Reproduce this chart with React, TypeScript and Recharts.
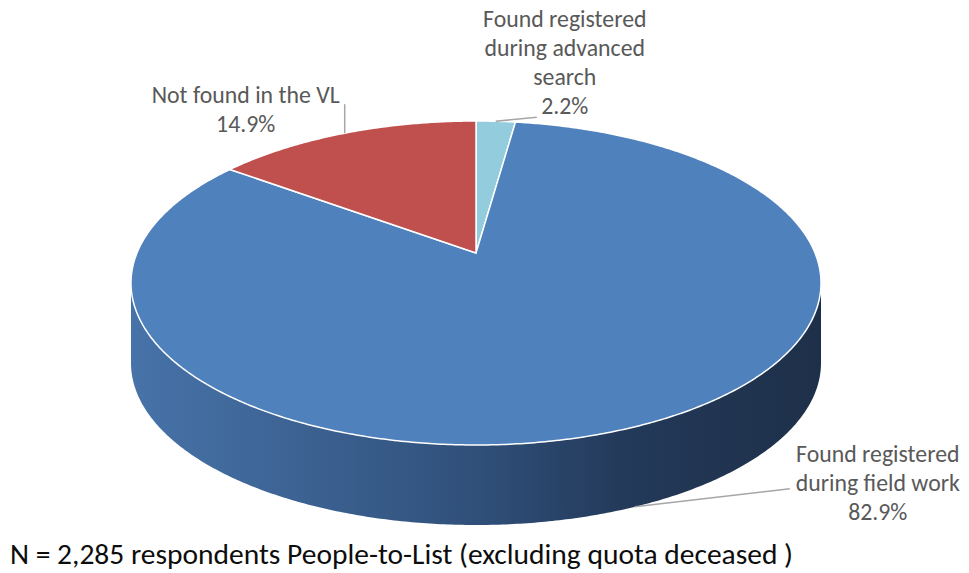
import React from 'react';
import { PieChart, Pie, Cell } from 'recharts';

const categories = [
  'Found registered during advanced search',
  'Found registered during field work',
  'Not found in the VL',
];
const labelLines = [
  ['Found registered', 'during advanced', 'search'],
  ['Found registered', 'during field work'],
  ['Not found in the VL'],
];
const shares = [2.2, 82.9, 14.9];
const colors = ['#93cddd', '#4f81bd', '#c0504d'];
const footnote = 'N = 2,285 respondents People-to-List (excluding quota deceased )';

const data = categories.map((name, i) => ({ name, value: shares[i] }));

const W = 969;
const H = 573;
const CX = 476;
const CY = 283;
const RX = 345;
const RY_RATIO = 162 / 345;
const DEPTH = 80;
const PERSP = 0.185;
const FONT = "Carlito, Calibri, 'Liberation Sans', Arial, sans-serif";

function proj(cx: number, cy: number, rx: number, deg: number) {
  const ry = rx * RY_RATIO;
  const t = (deg * Math.PI) / 180;
  const c = Math.cos(t);
  const s = Math.sin(t);
  const d = 1 + PERSP * s;
  const X = (c * Math.sqrt(1 - PERSP * PERSP)) / d;
  const Y = (s + PERSP) / d;
  return { x: cx + rx * X, y: cy - ry * Y, Y };
}

function apex(cx: number, cy: number, rx: number) {
  return { x: cx, y: cy - rx * RY_RATIO * PERSP };
}

function idxOf(p: any) {
  const n = p?.payload?.name ?? p?.name;
  const i = categories.indexOf(n);
  return i < 0 ? 0 : i;
}

function Slice(props: any) {
  const { cx, cy, outerRadius, startAngle, endAngle } = props;
  const i = idxOf(props);
  const fill = colors[i];
  const span = endAngle - startAngle;
  const steps = Math.max(2, Math.ceil(Math.abs(span) / 0.5));
  const pts = [] as { x: number; y: number; Y: number }[];
  for (let k = 0; k <= steps; k++) {
    pts.push(proj(cx, cy, outerRadius, startAngle + (span * k) / steps));
  }
  const a = apex(cx, cy, outerRadius);
  const top =
    `M${a.x},${a.y} ` + pts.map((p) => `L${p.x.toFixed(2)},${p.y.toFixed(2)}`).join(' ') + ' Z';

  const runs: { x: number; y: number }[][] = [];
  let cur: { x: number; y: number }[] = [];
  pts.forEach((p) => {
    if (p.Y <= 0.001) cur.push(p);
    else if (cur.length) {
      runs.push(cur);
      cur = [];
    }
  });
  if (cur.length) runs.push(cur);
  const gid = `side-grad-${i}`;
  const sides = runs
    .filter((r) => r.length > 1)
    .map((r, k) => {
      const upper = r.map((p) => `${p.x.toFixed(2)},${p.y.toFixed(2)}`);
      const lower = r
        .slice()
        .reverse()
        .map((p) => `${p.x.toFixed(2)},${(p.y + DEPTH).toFixed(2)}`);
      return (
        <path
          key={k}
          d={`M${upper.join(' L')} L${lower.join(' L')} Z`}
          fill={`url(#${gid})`}
          stroke="none"
        />
      );
    });

  return (
    <g>
      <defs>
        <linearGradient
          id={gid}
          gradientUnits="userSpaceOnUse"
          x1={cx - outerRadius}
          y1={0}
          x2={cx + outerRadius}
          y2={0}
        >
          {i === 1 ? (
            <>
              <stop offset="0%" stopColor="#4773a9" />
              <stop offset="25%" stopColor="#3c6292" />
              <stop offset="50%" stopColor="#30507a" />
              <stop offset="72%" stopColor="#233959" />
              <stop offset="100%" stopColor="#1e3049" />
            </>
          ) : (
            <>
              <stop offset="0%" stopColor={fill} />
              <stop offset="100%" stopColor={fill} />
            </>
          )}
        </linearGradient>
      </defs>
      {sides}
      <path d={top} fill={fill} stroke="#ffffff" strokeWidth={1.5} strokeLinejoin="round" />
    </g>
  );
}

const labelLayout = [
  { ldx: 41, ldy: -4, tdx: 69, tdy: -94, bottom: false },
  { ldx: 155, ldy: -18, tdx: 243, tdy: -45, bottom: true },
  { ldx: 0, ldy: -29, tdx: -99, tdy: -30, bottom: false },
];

function renderLabel(props: any) {
  const { cx, cy, outerRadius, midAngle } = props;
  const i = idxOf(props);
  const L = labelLayout[i];
  const p = proj(cx, cy, outerRadius, midAngle);
  const sx = p.x;
  const sy = p.y + (L.bottom ? DEPTH : 0);
  const ex = sx + L.ldx;
  const ey = sy + L.ldy;
  const lines = [...labelLines[i], `${shares[i].toFixed(1)}%`];
  return (
    <g key={`lbl-${i}`}>
      <path d={`M${sx},${sy} L${ex},${ey}`} stroke="#a6a6a6" strokeWidth={1.5} fill="none" />
      <text
        x={sx + L.tdx}
        y={sy + L.tdy}
        textAnchor="middle"
        fill="#595959"
        fontSize={23.8}
        fontFamily={FONT}
      >
        {lines.map((ln, k) => (
          <tspan key={k} x={sx + L.tdx} dy={k === 0 ? 0 : 29}>
            {ln}
          </tspan>
        ))}
      </text>
    </g>
  );
}

export default function App() {
  return (
    <div style={{ position: 'absolute', left: 0, top: 0, width: W, height: H, background: '#fff' }}>
      <PieChart width={W} height={H} margin={{ top: 0, right: 0, bottom: 0, left: 0 }}>
        <Pie
          data={data}
          dataKey="value"
          nameKey="name"
          cx={CX}
          cy={CY}
          innerRadius={0}
          outerRadius={RX}
          startAngle={90}
          endAngle={-270}
          isAnimationActive={false}
          labelLine={false}
          label={renderLabel}
          shape={Slice}
          inactiveShape={Slice}
          activeShape={Slice}
          stroke="none"
        >
          {data.map((d, i) => (
            <Cell key={d.name} fill={colors[i]} />
          ))}
        </Pie>
      </PieChart>
      <svg
        width={W}
        height={H}
        style={{ position: 'absolute', left: 0, top: 0, pointerEvents: 'none' }}
      >
        <text x={10} y={564} fontSize={29.5} fill="#0d0d0d" fontFamily={FONT}>
          {footnote}
        </text>
      </svg>
    </div>
  );
}
